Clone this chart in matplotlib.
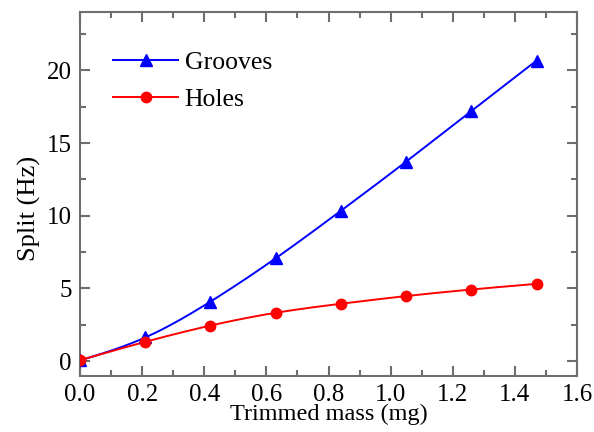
import numpy as np
import matplotlib
matplotlib.use("Agg")
import matplotlib.pyplot as plt
from matplotlib.ticker import MultipleLocator
from matplotlib.lines import Line2D

# Trimmed mass (mg) and frequency split (Hz)
mass = [0.0, 0.21, 0.42, 0.63, 0.84, 1.05, 1.26, 1.47]
grooves = [0.05, 1.63, 4.1, 7.08, 10.35, 13.73, 17.22, 20.68]
holes = [0.07, 1.33, 2.45, 3.33, 3.95, 4.48, 4.93, 5.32]

x_label = "Trimmed mass (mg)"
y_label = "Split (Hz)"
series_names = ["Grooves", "Holes"]
x_ticks = [0.0, 0.2, 0.4, 0.6, 0.8, 1.0, 1.2, 1.4, 1.6]


def natural_spline(x, y, n=300):
    """Natural cubic spline through (x, y), evaluated on a dense grid."""
    x = np.asarray(x, float)
    y = np.asarray(y, float)
    k = len(x)
    h = np.diff(x)
    A = np.zeros((k, k))
    b = np.zeros(k)
    A[0, 0] = A[-1, -1] = 1.0
    for i in range(1, k - 1):
        A[i, i - 1] = h[i - 1]
        A[i, i] = 2 * (h[i - 1] + h[i])
        A[i, i + 1] = h[i]
        b[i] = 3 * ((y[i + 1] - y[i]) / h[i] - (y[i] - y[i - 1]) / h[i - 1])
    c = np.linalg.solve(A, b)
    xs = np.linspace(x[0], x[-1], n)
    idx = np.clip(np.searchsorted(x, xs) - 1, 0, k - 2)
    dx = xs - x[idx]
    bb = (y[idx + 1] - y[idx]) / h[idx] - h[idx] * (2 * c[idx] + c[idx + 1]) / 3
    dd = (c[idx + 1] - c[idx]) / (3 * h[idx])
    ys = y[idx] + bb * dx + c[idx] * dx ** 2 + dd * dx ** 3
    return xs, ys


plt.rcParams["font.family"] = ["Liberation Serif", "DejaVu Serif"]

fig = plt.figure(figsize=(5.94, 4.32), dpi=100)
ax = fig.add_axes([0.1347, 0.1303, 0.8367, 0.8412])

blue = "#0000ff"
red = "#ff0000"

xs, ys = natural_spline(mass, grooves)
ax.plot(xs, ys, color=blue, lw=1.4, zorder=2)
ax.plot(mass, grooves, ls="none", marker="^", ms=8.5, color=blue, zorder=3)

xs, ys = natural_spline(mass, holes)
ax.plot(xs, ys, color=red, lw=1.4, zorder=2)
ax.plot(mass, holes, ls="none", marker="o", ms=7.5, color=red, zorder=3)

ax.set_xlim(0.0, 1.6)
ax.set_ylim(-1.0, 24.0)
ax.set_xticks(x_ticks)
ax.set_xticklabels([f"{v:.1f}" for v in x_ticks])
ax.xaxis.set_minor_locator(MultipleLocator(0.1))
ax.yaxis.set_major_locator(MultipleLocator(5))
ax.yaxis.set_minor_locator(MultipleLocator(2.5))

spine_color = "#6e6e6e"
for s in ax.spines.values():
    s.set_color(spine_color)
    s.set_linewidth(1.5)
ax.tick_params(which="both", direction="in", top=True, right=True,
               color=spine_color, labelsize=18, labelcolor="black")
ax.tick_params(which="major", length=7.5, width=1.5, pad=6)
ax.tick_params(which="minor", length=4.5, width=1.5)

ax.set_xlabel(x_label, fontsize=17.5, labelpad=-1.5)
ax.set_ylabel(y_label, fontsize=19)
ax.yaxis.set_label_coords(-0.079, 0.461)

handles = [
    Line2D([], [], color=blue, lw=1.4, marker="^", ms=8.5),
    Line2D([], [], color=red, lw=1.4, marker="o", ms=7.5),
]
ax.legend(handles, series_names, loc="upper left", frameon=False,
          fontsize=18.5, handlelength=2.55, handletextpad=0.25,
          labelspacing=0.52, borderpad=0.0, borderaxespad=0.0,
          bbox_to_anchor=(0.066, 0.893))

fig.savefig("out.png", dpi=100)
